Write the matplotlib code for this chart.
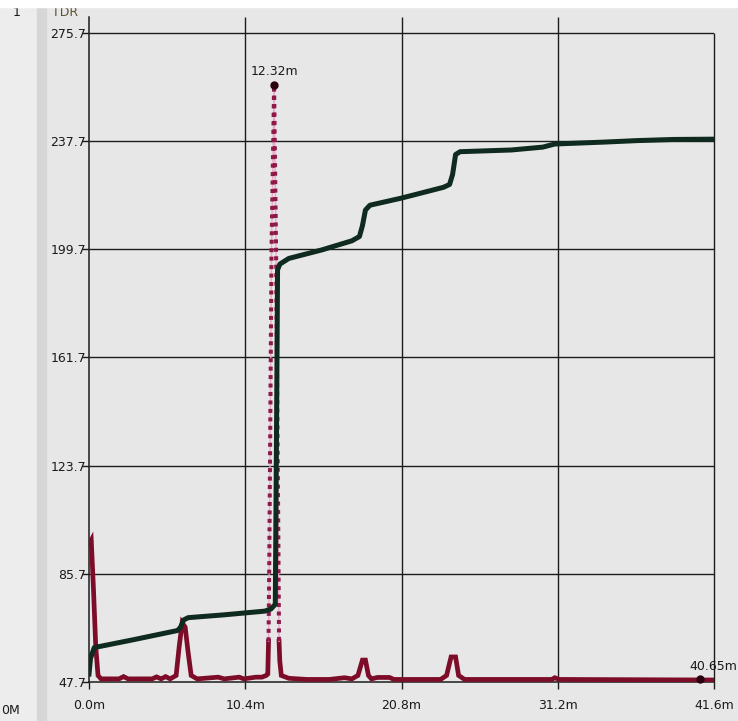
import matplotlib
matplotlib.use("Agg")
import matplotlib.pyplot as plt
import numpy as np
from matplotlib.patches import Rectangle

# TDR trace (distance in m, value in display units)
green_x = [0.0, 0.1, 0.35, 3.0, 5.9, 6.1, 6.3, 6.6, 9.0, 11.7, 12.1, 12.4, 12.5,
           12.55, 12.7, 13.3, 15.5, 17.5, 18.0, 18.2, 18.4, 18.7, 20.8, 23.6,
           24.0, 24.2, 24.4, 24.7, 28.1, 30.2, 31.0, 34.4, 36.5, 38.9, 41.6]
green_y = [50.5, 56.0, 59.8, 62.6, 65.8, 67.0, 69.5, 70.3, 71.3, 72.6, 73.3, 75.0, 150.0,
           192.5, 194.5, 196.5, 199.5, 202.7, 204.2, 208.0, 213.5, 215.2, 217.7, 221.5,
           222.5, 226.0, 233.0, 234.0, 234.6, 235.6, 236.7, 237.4, 237.9, 238.3, 238.4]

# reflection trace, the big spike is kept separate (drawn dotted)
red_x = [0.0, 0.15, 0.3, 0.45, 0.6, 0.8, 2.0, 2.3, 2.6, 4.2, 4.5, 4.8, 5.1, 5.4,
         5.8, 6.0, 6.2, 6.4, 6.6, 6.8, 7.2, 8.6, 9.0, 10.0, 10.3, 11.1, 11.5, 11.8,
         11.9, 11.95, np.nan, 12.65, 12.7, 12.8, 13.3, 14.5, 16.0, 17.0, 17.5, 17.9,
         18.2, 18.4, 18.6, 18.8, 19.2, 20.0, 20.3, 23.4, 23.8, 24.1, 24.4, 24.6,
         25.0, 30.8, 31.0, 31.3, 41.6]
red_y = [96.0, 97.5, 80.0, 60.0, 50.0, 48.8, 48.8, 49.6, 48.8, 48.8, 49.5, 48.8, 49.6, 48.8,
         50.0, 60.0, 68.5, 67.0, 58.0, 50.0, 48.8, 49.4, 48.8, 49.4, 48.8, 49.4, 49.4, 50.0,
         50.5, 62.0, np.nan, 62.0, 55.0, 50.0, 49.0, 48.6, 48.6, 49.2, 48.8, 50.0,
         55.4, 55.4, 50.0, 48.8, 49.3, 49.3, 48.6, 48.6, 50.0, 56.5, 56.5, 50.0,
         48.6, 48.6, 49.2, 48.6, 48.4]
spike_x = [11.95, 12.0, 12.15, 12.32, 12.45, 12.6, 12.65]
spike_y = [62.0, 90.0, 200.0, 257.4, 200.0, 100.0, 62.0]

markers = [(12.32, 257.4), (40.65, 48.8)]
y_ticks = [47.7, 85.7, 123.7, 161.7, 199.7, 237.7, 275.7]
x_ticks = [0.0, 10.4, 20.8, 31.2, 41.6]
x_labels = ["0.0m", "10.4m", "20.8m", "31.2m", "41.6m"]

W, H = 738, 721
fig = plt.figure(figsize=(W / 100, H / 100), dpi=100)
fig.patch.set_facecolor("#e7e7e7")

def fx(px):
    return px / W

def fy(py):
    return 1 - py / H

# window chrome on the left and top
fig.patches.append(Rectangle((0, 0), fx(37), 1, transform=fig.transFigure,
                             color="#ededed", zorder=0))
fig.patches.append(Rectangle((fx(37), 0), fx(9), 1, transform=fig.transFigure,
                             color="#d6d6d6", zorder=0))
fig.patches.append(Rectangle((0, fy(7)), 1, 7 / H, transform=fig.transFigure,
                             color="white", zorder=10))

ymax = 275.7 + 16 * 38 / 108.2
ax = fig.add_axes([fx(89), fy(682), fx(714 - 89), (682 - 17) / H])
ax.set_facecolor("none")
ax.set_xlim(0, 41.6)
ax.set_ylim(47.7, ymax)

lc = "#1c1c1c"
for s in ["top", "right"]:
    ax.spines[s].set_visible(False)
for s in ["left", "bottom"]:
    ax.spines[s].set_color(lc)
    ax.spines[s].set_linewidth(1.1)

ax.set_yticks(y_ticks)
ax.set_yticklabels([f"{v:.1f}" for v in y_ticks])
ax.set_xticks(x_ticks)
ax.set_xticklabels(x_labels)
ax.tick_params(axis="y", length=5, width=1, color=lc, pad=-3, labelsize=9, labelcolor="#1a1a1a")
ax.tick_params(axis="x", length=5, width=1, color=lc, pad=7, labelsize=9, labelcolor="#1a1a1a")
for t in ax.get_xticklabels() + ax.get_yticklabels():
    t.set_family("DejaVu Sans")

ax.hlines(y_ticks[1:], 0, 41.6, color=lc, lw=1.0, zorder=1)
ax.vlines(x_ticks[1:-1], 47.7, ymax, color=lc, lw=1.0, zorder=1)
ax.vlines([41.6], 47.7, 275.7, color=lc, lw=1.0, zorder=1, clip_on=False)

# traces
ax.plot(red_x, red_y, color="#7d0c28", lw=3.4, solid_joinstyle="miter", zorder=3)
ax.plot(spike_x, spike_y, color="#e7a9c4", lw=1.0, zorder=3)
ax.plot(spike_x, spike_y, color="#8e1a4a", lw=2.9, dashes=(1, 1.1), zorder=3)
ax.plot(green_x, green_y, color="#0f2a1f", lw=3.6, zorder=4)

for mx, my in markers:
    ax.plot(mx, my, "o", ms=5, color="#2a0010", zorder=5, clip_on=False)

ax.text(12.32, 262.3, "12.32m", ha="center", va="center", fontsize=9, color="#1a1a1a")
ax.text(39.95, 53.0, "40.65m", ha="left", va="center", fontsize=9, color="#1a1a1a",
        clip_on=False)

# bits of the surrounding UI
fig.text(fx(65), fy(12), "TDR", ha="center", va="center", fontsize=9, color="#5c5430")
fig.text(fx(17), fy(13), "1", ha="center", va="center", fontsize=9, color="#1a1a1a")
fig.text(fx(1), fy(711), "0M", ha="left", va="center", fontsize=9, color="#1a1a1a")

fig.savefig("out.png", dpi=100, facecolor=fig.get_facecolor())
